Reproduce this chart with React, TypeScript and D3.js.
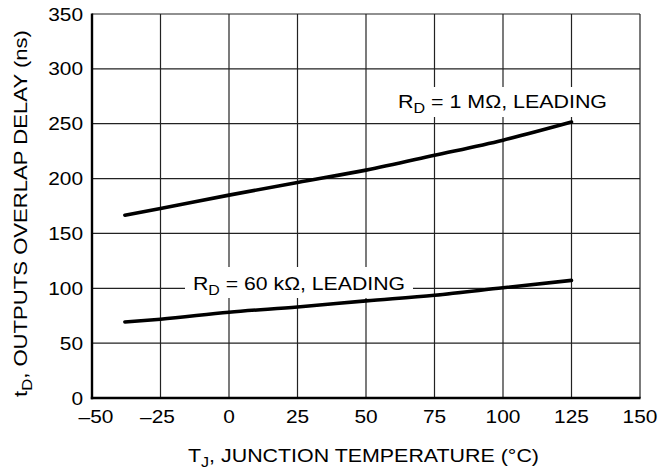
import React from "react";
import * as d3 from "d3";

const xTicks = [-50, -25, 0, 25, 50, 75, 100, 125, 150];
const yTicks = [0, 50, 100, 150, 200, 250, 300, 350];

const tempsHigh = [-38, -25, 0, 25, 50, 75, 100, 125];
const delayHigh = [166.6, 172.7, 184.9, 196.5, 207.7, 221.2, 235.0, 251.5];

const tempsLow = [-38, -25, 0, 25, 50, 75, 100, 125];
const delayLow = [69.3, 71.8, 78.2, 83.0, 88.5, 93.7, 100.5, 107.2];

const W = 665;
const H = 470;
const M = { left: 92, right: 25, top: 14, bottom: 72 };
const FONT = "'Liberation Sans', Arial, Helvetica, sans-serif";
const FS = 18.3;
const SX = 1.14;

function Tick({ x, y, anchor, children }: { x: number; y: number; anchor: string; children: React.ReactNode }) {
  return (
    <g transform={`translate(${x},${y}) scale(${SX},1)`}>
      <text x={0} y={0} textAnchor={anchor as any} fontSize={FS} fill="#000">
        {children}
      </text>
    </g>
  );
}

export default function App() {
  const x = d3.scaleLinear().domain([-50, 150]).range([M.left, W - M.right]);
  const y = d3.scaleLinear().domain([0, 350]).range([H - M.bottom, M.top]);
  const line = d3
    .line<[number, number]>()
    .x((d) => x(d[0]))
    .y((d) => y(d[1]))
    .curve(d3.curveMonotoneX);
  const hi = tempsHigh.map((t, i) => [t, delayHigh[i]] as [number, number]);
  const lo = tempsLow.map((t, i) => [t, delayLow[i]] as [number, number]);
  const x0 = x(-50), x1 = x(150), y0 = y(0), y1 = y(350);
  const sub = FS * 0.75;
  return (
    <svg
      width={W}
      height={H}
      style={{ position: "absolute", left: 0, top: 0, background: "#fff" }}
      fontFamily={FONT}
    >
      <rect x={0} y={0} width={W} height={H} fill="#fff" />
      {xTicks.map((t) => (
        <line key={"gx" + t} x1={x(t)} x2={x(t)} y1={y1} y2={y0} stroke="#222" strokeWidth={1.2} />
      ))}
      {yTicks.map((t) => (
        <line key={"gy" + t} x1={x0} x2={x1} y1={y(t)} y2={y(t)} stroke="#222" strokeWidth={1.2} />
      ))}
      {/* label masks */}
      <rect x={390} y={87} width={224} height={30} fill="#fff" />
      <rect x={185} y={267} width={228} height={31} fill="#fff" />
      <line x1={x0} x2={x0} y1={y1 - 0.6} y2={y0 + 1.2} stroke="#000" strokeWidth={2.4} />
      <line x1={x0 - 1.2} x2={x1 + 0.6} y1={y0} y2={y0} stroke="#000" strokeWidth={2.4} />
      <path d={line(hi) || ""} fill="none" stroke="#000" strokeWidth={3.6} strokeLinecap="round" />
      <path d={line(lo) || ""} fill="none" stroke="#000" strokeWidth={3.6} strokeLinecap="round" />
      {yTicks.map((t) => (
        <Tick key={"ty" + t} x={x0 - 9} y={y(t) + FS * 0.36} anchor="end">
          {t}
        </Tick>
      ))}
      {xTicks.map((t) => (
        <Tick key={"tx" + t} x={x(t) + (t === -50 ? 4 : t === -25 ? -3 : 0)} y={423} anchor="middle">
          {t < 0 ? "\u2013" + Math.abs(t) : String(t)}
        </Tick>
      ))}
      <text x={398} y={108} fontSize={FS} fill="#000" textLength={209} lengthAdjust="spacingAndGlyphs">
        R<tspan fontSize={sub} dy={4.5}>D</tspan>
        <tspan dy={-4.5}> = 1 M{"\u03A9"}, LEADING</tspan>
      </text>
      <text x={193} y={290} fontSize={FS} fill="#000" textLength={212} lengthAdjust="spacingAndGlyphs">
        R<tspan fontSize={sub} dy={4.5}>D</tspan>
        <tspan dy={-4.5}> = 60 k{"\u03A9"}, LEADING</tspan>
      </text>
      <text x={188} y={462} fontSize={FS} fill="#000" textLength={351} lengthAdjust="spacingAndGlyphs">
        T<tspan fontSize={sub} dy={4.5}>J</tspan>
        <tspan dy={-4.5}>, JUNCTION TEMPERATURE ({"\u00B0"}C)</tspan>
      </text>
      <text
        transform={`translate(27, 397) rotate(-90)`}
        x={0}
        y={0}
        fontSize={FS}
        fill="#000"
        textLength={367}
        lengthAdjust="spacingAndGlyphs"
      >
        t<tspan fontSize={sub} dy={4.5}>D</tspan>
        <tspan dy={-4.5}>, OUTPUTS OVERLAP DELAY (ns)</tspan>
      </text>
    </svg>
  );
}
